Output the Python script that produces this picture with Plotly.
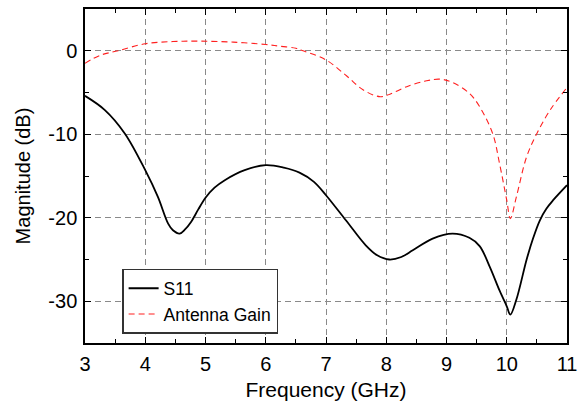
import plotly.graph_objects as go

s11_freq = [3.0, 3.33, 3.66, 4.0, 4.21, 4.38, 4.46, 4.57, 4.66, 4.76, 4.88, 5.0, 5.15, 5.32, 5.65, 6.0, 6.3,
            6.56, 6.8, 7.0, 7.33, 7.66, 7.85, 8.05, 8.25, 8.44, 8.77, 9.1, 9.38, 9.55, 9.72, 9.88,
            10.0, 10.06, 10.16, 10.33, 10.44, 10.55, 10.66, 10.77, 11.0]
s11_db = [-5.4, -7.1, -9.9, -14.3, -17.5, -20.7, -21.5, -21.9, -21.4, -20.5, -19.0, -17.6, -16.4, -15.5, -14.3, -13.7, -14.0,
          -14.6, -15.7, -17.3, -20.3, -23.3, -24.5, -25.0, -24.7, -23.9, -22.5, -21.9, -22.4, -23.4, -25.9, -28.7,
          -30.6, -31.6, -29.8, -25.0, -22.4, -20.3, -18.9, -17.9, -16.1]

gain_freq = [3.0, 3.25, 3.55, 4.0, 4.46, 4.9, 5.46, 6.0, 6.23, 6.5, 6.62, 7.0, 7.34, 7.62,
             7.9, 8.06, 8.34, 8.67, 8.89, 9.1, 9.38, 9.55, 9.77, 9.88, 10.0, 10.06, 10.16,
             10.33, 10.5, 10.72, 11.0]
gain_db = [-1.5, -0.55, 0.0, 0.84, 1.1, 1.15, 1.03, 0.75, 0.55, 0.3, 0.0, -1.1, -3.0, -4.7,
           -5.5, -5.2, -4.3, -3.6, -3.4, -3.8, -5.1, -6.7, -10.0, -13.5, -17.9, -20.1, -17.5,
           -12.7, -9.9, -7.1, -4.4]

x_ticks = [3, 4, 5, 6, 7, 8, 9, 10, 11]
y_ticks = [-30, -20, -10, 0]

FONT = "Liberation Sans, Arial"

fig = go.Figure()
fig.add_trace(go.Scatter(x=s11_freq, y=s11_db, mode="lines", name="S11",
                         line=dict(color="black", width=1.8, shape="spline", smoothing=1.0)))
fig.add_trace(go.Scatter(x=gain_freq, y=gain_db, mode="lines", name="Antenna Gain",
                         line=dict(color="#ff2020", width=1.1, dash="6px,4px", shape="spline", smoothing=1.0)))

axis_common = dict(
    showline=True, linecolor="black", linewidth=1.5, mirror="ticks",
    ticks="inside", ticklen=6, tickwidth=1, tickcolor="black",
    showgrid=True, gridcolor="#8a8a8a", gridwidth=1, griddash="6px,4px",
    zeroline=False, automargin=False,
    tickfont=dict(family=FONT, size=20, color="black"),
)

fig.update_xaxes(range=[3, 11], tickvals=x_ticks, ticktext=[str(v) for v in x_ticks],
                 ticklabelstandoff=2,
                 title=dict(text="Frequency (GHz)", font=dict(family=FONT, size=21, color="black"), standoff=9),
                 minor=dict(dtick=0.5, tick0=3, ticks="inside", ticklen=4, tickcolor="black", showgrid=False),
                 **axis_common)
fig.update_yaxes(range=[-35, 5], tickvals=y_ticks, ticktext=[str(v) for v in y_ticks],
                 ticklabelstandoff=2,
                 title=dict(text="Magnitude (dB)", font=dict(family=FONT, size=20, color="black"), standoff=12),
                 minor=dict(dtick=5, tick0=0, ticks="inside", ticklen=4, tickcolor="black", showgrid=False),
                 **axis_common)

fig.update_layout(
    width=578, height=404,
    margin=dict(l=85, r=11, t=9, b=61),
    paper_bgcolor="white", plot_bgcolor="white",
    showlegend=True,
    legend=dict(x=0.077, y=0.222, xanchor="left", yanchor="top",
                bgcolor="white", bordercolor="#333333", borderwidth=1.5,
                font=dict(family=FONT, size=17.5, color="black"),
                tracegroupgap=0, itemwidth=30),
)

fig.write_html("out.html", config={"displayModeBar": False},
               post_script="document.body.style.margin='0';document.body.style.overflow='hidden';")
